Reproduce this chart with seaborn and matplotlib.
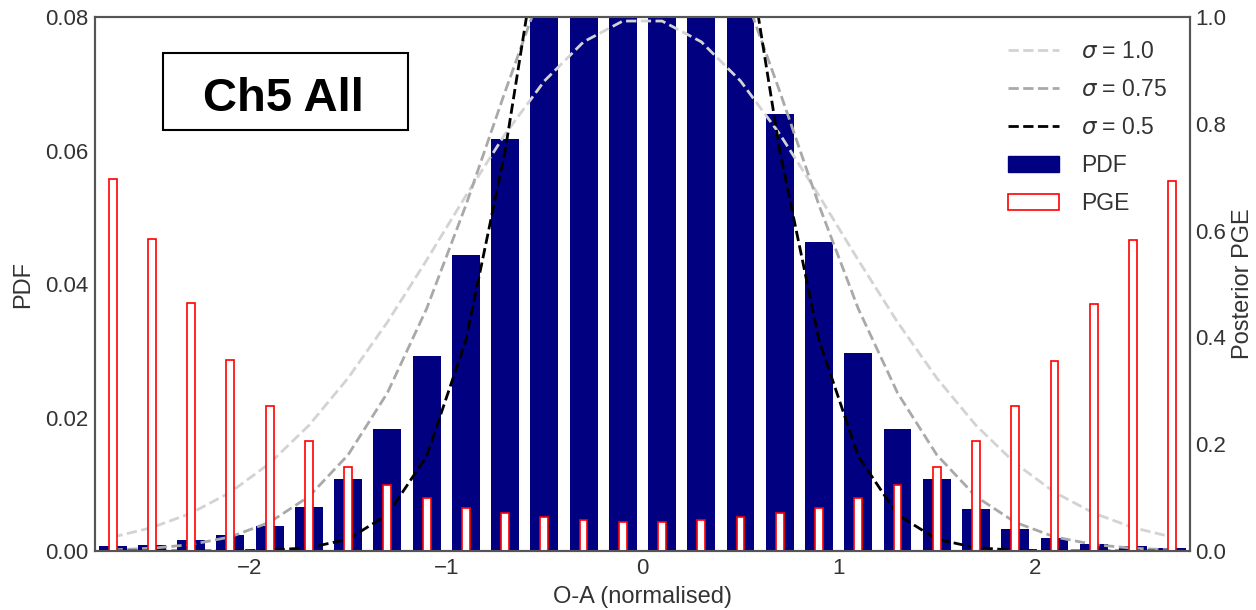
import numpy as np
import pandas as pd
import matplotlib
matplotlib.use("Agg")
import matplotlib.pyplot as plt
from matplotlib.patches import Patch, Rectangle
from matplotlib.lines import Line2D
from matplotlib.ticker import FormatStrFormatter
import seaborn as sns

# ---------------- data ----------------
bin_centers = [-2.7, -2.5, -2.3, -2.1, -1.9, -1.7, -1.5, -1.3, -1.1, -0.9, -0.7, -0.5, -0.3, -0.1,
               0.1, 0.3, 0.5, 0.7, 0.9, 1.1, 1.3, 1.5, 1.7, 1.9, 2.1, 2.3, 2.5, 2.7]

pdf_values = [0.00075, 0.00095, 0.0016, 0.00245, 0.0037, 0.00665, 0.01085, 0.0183, 0.0292, 0.0444,
              0.0618, 0.088, 0.105, 0.115, 0.115, 0.105, 0.09, 0.0654, 0.0463, 0.0297, 0.0183,
              0.01085, 0.00625, 0.00335, 0.0020, 0.0011, 0.00075, 0.0004]

pge_values = [0.696, 0.585, 0.464, 0.358, 0.271, 0.206, 0.158, 0.124, 0.100, 0.081, 0.071, 0.063,
              0.058, 0.055, 0.055, 0.058, 0.063, 0.071, 0.081, 0.100, 0.124, 0.158, 0.206, 0.271,
              0.356, 0.463, 0.582, 0.692]

curve_sigma_1_0 = [0.00208, 0.00351, 0.00567, 0.00880, 0.01313, 0.01881, 0.02591, 0.03428, 0.04357,
                   0.05322, 0.06245, 0.07041, 0.07628, 0.07940, 0.07940, 0.07628, 0.07041, 0.06245,
                   0.05322, 0.04357, 0.03428, 0.02591, 0.01881, 0.01313, 0.00880, 0.00567, 0.00351,
                   0.00208]
curve_sigma_0_75 = [0.00016, 0.00041, 0.00097, 0.00211, 0.00430, 0.00815, 0.01440, 0.02368, 0.03629,
                    0.05178, 0.06882, 0.08519, 0.09821, 0.10544, 0.10544, 0.09821, 0.08519, 0.06882,
                    0.05178, 0.03629, 0.02368, 0.01440, 0.00815, 0.00430, 0.00211, 0.00097, 0.00041,
                    0.00016]
curve_sigma_0_5 = [0.0, 0.0, 0.0, 0.00002, 0.00012, 0.00049, 0.00177, 0.00543, 0.01419, 0.03158,
                   0.05989, 0.09679, 0.13329, 0.15642, 0.15642, 0.13329, 0.09679, 0.05989, 0.03158,
                   0.01419, 0.00543, 0.00177, 0.00049, 0.00012, 0.00002, 0.0, 0.0, 0.0]

curve_labels = [r"$\sigma$ = 1.0", r"$\sigma$ = 0.75", r"$\sigma$ = 0.5"]
curve_colors = ["#d3d3d3", "#a9a9a9", "#000000"]
x_ticks = [-2, -1, 0, 1, 2]
pdf_ticks = [0.00, 0.02, 0.04, 0.06, 0.08]
pge_ticks = [0.0, 0.2, 0.4, 0.6, 0.8, 1.0]

# ---------------- style ----------------
sns.set_theme(style="white")
plt.rcParams["font.family"] = ["Liberation Sans", "DejaVu Sans"]
plt.rcParams["mathtext.fontset"] = "dejavusans"
plt.rcParams["axes.edgecolor"] = "#555555"
plt.rcParams["axes.linewidth"] = 1.5
text_col = "#333333"

fig = plt.figure(figsize=(12.56, 6.10), dpi=100)
ax = fig.add_axes([0.0756, 0.0967, 0.8718, 0.8754])

df = pd.DataFrame({"x": bin_centers, "pdf": pdf_values, "pge": pge_values,
                   "s10": curve_sigma_1_0, "s075": curve_sigma_0_75, "s05": curve_sigma_0_5})

sns.barplot(data=df, x="x", y="pdf", native_scale=True, width=0.71, color="navy",
            saturation=1, linewidth=0, errorbar=None, ax=ax)

for col, c in zip(["s10", "s075", "s05"], curve_colors):
    sns.lineplot(data=df, x="x", y=col, ax=ax, color=c, linestyle="--", linewidth=2)

ax2 = ax.twinx()
sns.barplot(data=df, x="x", y="pge", native_scale=True, width=0.2, color="white",
            saturation=1, errorbar=None, ax=ax2)
for p in ax2.patches:
    p.set_facecolor("white")
    p.set_edgecolor("red")
    p.set_linewidth(1.2)

ax.set_xlim(-2.79, 2.79)
ax.set_ylim(0, 0.08)
ax2.set_ylim(0, 1.0)
ax.set_xticks(x_ticks)
ax.set_yticks(pdf_ticks)
ax2.set_yticks(pge_ticks)
ax.yaxis.set_major_formatter(FormatStrFormatter("%.2f"))
ax2.yaxis.set_major_formatter(FormatStrFormatter("%.1f"))
ax.tick_params(labelsize=16, colors=text_col, length=0, pad=5)
ax2.tick_params(labelsize=16, colors=text_col, length=0, pad=4)
ax.set_xlabel("O-A (normalised)", fontsize=17, color=text_col, labelpad=5)
ax.set_ylabel("PDF", fontsize=17, color=text_col, labelpad=8)
ax2.set_ylabel("Posterior PGE", fontsize=17, color=text_col, labelpad=4)
ax.grid(False)
ax2.grid(False)

# title box
ax2.add_patch(Rectangle((0.062, 0.788), 0.224, 0.145, transform=ax2.transAxes,
                        facecolor="white", edgecolor="black", linewidth=1.5, zorder=5))
ax2.text(0.1717, 0.8245, "Ch5 All", transform=ax2.transAxes, ha="center", va="baseline",
         fontsize=34, fontweight="bold", color="black", zorder=6)

handles = [Line2D([0], [0], color=c, linestyle="--", linewidth=2) for c in curve_colors]
handles += [Patch(facecolor="navy", edgecolor="navy"),
            Patch(facecolor="white", edgecolor="red", linewidth=1.2)]
labels = curve_labels + ["PDF", "PGE"]
leg = ax2.legend(handles, labels, loc="upper right", frameon=False, fontsize=16.5,
                 handlelength=2.25, handletextpad=0.95, labelspacing=0.66,
                 borderaxespad=0.6)
for t in leg.get_texts():
    t.set_color(text_col)
leg.set_zorder(10)

fig.savefig("out.png", dpi=100)
